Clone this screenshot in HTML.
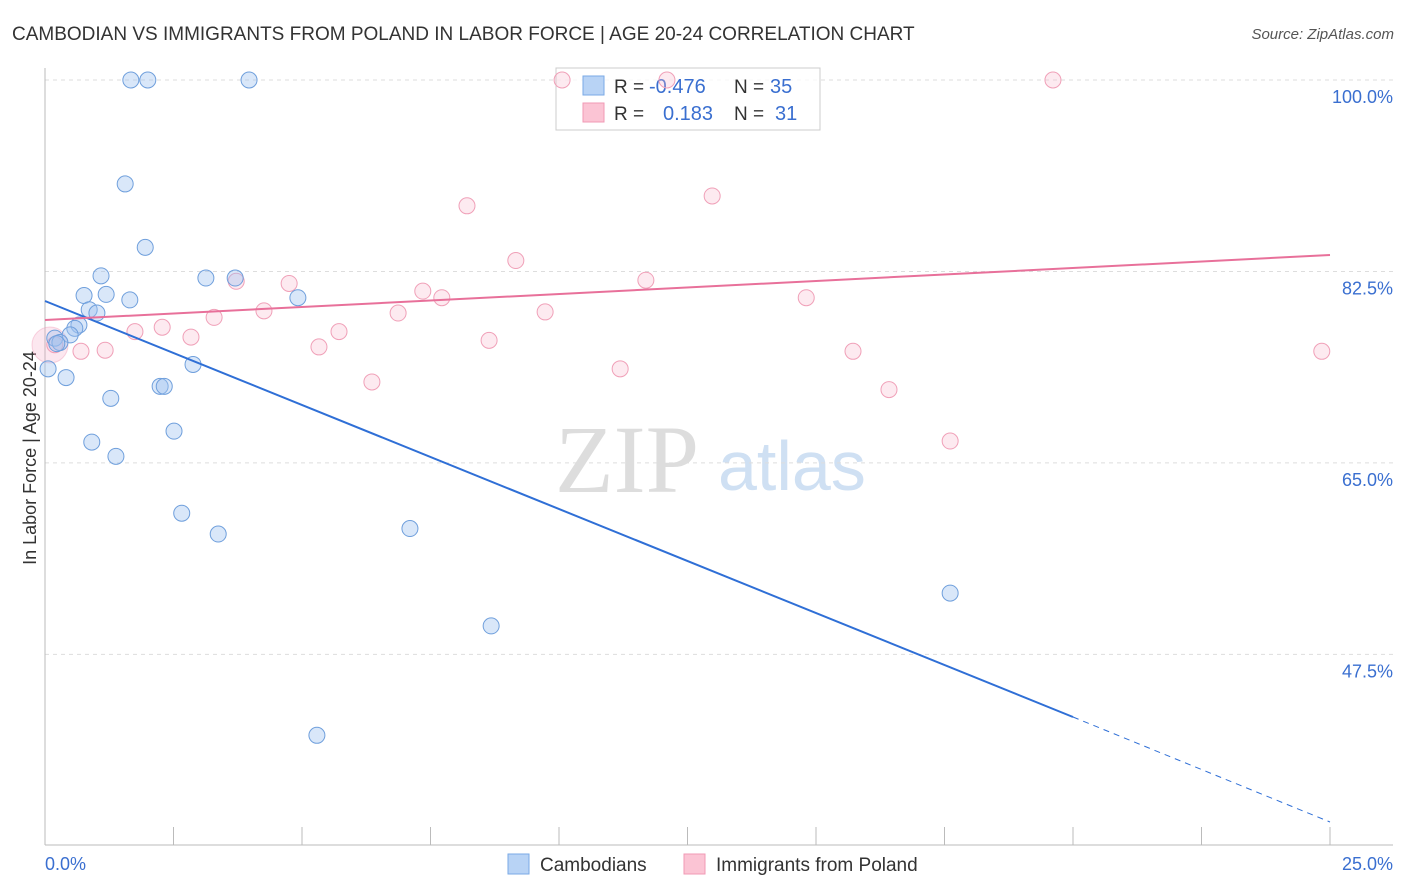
<!DOCTYPE html>
<html><head><meta charset="utf-8"><style>
body{margin:0;background:#fff;font-family:"Liberation Sans",sans-serif;}
svg{display:block}
</style></head><body>
<svg id="chart" width="1406" height="892">
<text x="12" y="40" font-size="19" fill="#333">CAMBODIAN VS IMMIGRANTS FROM POLAND IN LABOR FORCE | AGE 20-24 CORRELATION CHART</text>
<text x="1394" y="39" font-size="15" fill="#555" font-style="italic" text-anchor="end">Source: ZipAtlas.com</text>
<text x="36" y="458" font-size="18" fill="#333" text-anchor="middle" transform="rotate(-90 36 458)">In Labor Force | Age 20-24</text>
<text x="555" y="492" font-size="96" fill="#ddd" font-family="Liberation Serif,serif">ZIP</text>
<text x="718" y="490" font-size="70" fill="#cfe0f3">atlas</text>
<g id="grid"></g>
<g>
<rect x="556" y="68" width="264" height="62" fill="rgba(255,255,255,0.75)" stroke="#ccc"/>
<rect x="583" y="76" width="21" height="19" fill="#b8d3f5" stroke="#7aa9e6"/>
<rect x="583" y="103" width="21" height="19" fill="#fbc4d4" stroke="#f09ab5"/>
<text x="614" y="93" font-size="19" fill="#333">R = </text><text x="649" y="93" font-size="20" fill="#3a6fd0">-0.476</text>
<text x="734" y="93" font-size="19" fill="#333">N = </text><text x="770" y="93" font-size="20" fill="#3a6fd0">35</text>
<text x="614" y="120" font-size="19" fill="#333">R = </text><text x="663" y="120" font-size="20" fill="#3a6fd0">0.183</text>
<text x="734" y="120" font-size="19" fill="#333">N = </text><text x="775" y="120" font-size="20" fill="#3a6fd0">31</text>
</g>
<g id="pts"></g><g id="lines"></g>
<g>
<rect x="508" y="854" width="21" height="20" fill="#b8d3f5" stroke="#7aa9e6"/>
<text x="540" y="871" font-size="19" fill="#333">Cambodians</text>
<rect x="684" y="854" width="21" height="20" fill="#fbc4d4" stroke="#f09ab5"/>
<text x="716" y="871" font-size="19" fill="#333">Immigrants from Poland</text>
</g>
</svg>
<script>
const yTicks=[100,82.5,65,47.5];
const yTickLabels=["100.0%","82.5%","65.0%","47.5%"];
const xTickLabels=["0.0%","25.0%"];
const blueX=[1.67,2.0,3.97,1.56,1.95,1.09,3.13,3.70,0.76,1.19,1.65,4.92,0.86,1.01,0.66,0.58,0.49,0.19,0.29,0.06,0.41,2.88,1.28,2.24,2.32,0.91,1.38,2.51,2.66,3.37,7.10,8.68,17.61,5.29,0.23];
const blueY=[100,100,100,90.5,84.7,82.1,81.9,81.9,80.3,80.4,79.9,80.1,79.0,78.7,77.6,77.3,76.7,76.4,76.0,73.6,72.8,74.0,70.9,72.0,72.0,66.9,65.6,67.9,60.4,58.5,59.0,50.1,53.1,40.1,75.9];
const pinkX=[10.06,12.1,19.61,12.98,8.21,9.16,4.75,3.72,11.69,7.35,7.72,14.81,4.26,6.87,9.73,3.29,2.28,1.75,5.72,2.84,8.64,5.33,1.17,0.70,15.72,24.84,6.36,11.19,16.42,17.61,0.19];
const pinkY=[100,100,100,89.4,88.5,83.5,81.4,81.6,81.7,80.7,80.1,80.1,78.9,78.7,78.8,78.3,77.4,77.0,77.0,76.5,76.2,75.6,75.3,75.2,75.2,75.2,72.4,73.6,71.7,67.0,75.8];
const X=v=>45+v*51.4, Y=v=>80+(100-v)*10.94;
const ns="http://www.w3.org/2000/svg";
function mk(t,a,p){const e=document.createElementNS(ns,t);for(const k in a)e.setAttribute(k,a[k]);p.appendChild(e);return e;}
const g=document.getElementById('grid');
yTicks.forEach((t,i)=>{
 const l=mk('line',{x1:45,x2:1393,y1:Y(t),y2:Y(t),stroke:'#ddd','stroke-dasharray':'4,4'},g);
 
 
 const tx=mk('text',{x:1393,y:Y(t)+23,'font-size':18,fill:'#3a6fd0','text-anchor':'end'},g);tx.textContent=yTickLabels[i];
 
 
});
mk('line',{x1:45,x2:45,y1:68,y2:845,stroke:'#bbb'},g);
mk('line',{x1:45,x2:1393,y1:845,y2:845,stroke:'#bbb'},g);
for(let i=0;i<=10;i++){mk('line',{x1:X(i*2.5),x2:X(i*2.5),y1:827,y2:845,stroke:'#bbb'},g);}
const xl1=mk('text',{x:45,y:870,'font-size':18,fill:'#3a6fd0'},g);xl1.textContent=xTickLabels[0];


const xl2=mk('text',{x:1393,y:870,'font-size':18,fill:'#3a6fd0','text-anchor':'end'},g);xl2.textContent=xTickLabels[1];


const p=document.getElementById('pts');
mk('circle',{cx:50,cy:345,r:18,fill:'rgba(245,160,190,0.25)',stroke:'rgba(240,150,180,0.4)'},p);
pinkX.forEach((x,i)=>{const c=mk('circle',{cx:X(x),cy:Y(pinkY[i]),r:8,fill:'rgba(248,185,206,0.3)',stroke:'#f0a0b8','stroke-width':1},p);
 
 });
blueX.forEach((x,i)=>{const c=mk('circle',{cx:X(x),cy:Y(blueY[i]),r:8,fill:'rgba(160,195,240,0.4)',stroke:'#6f9fdc','stroke-width':1},p);
 
 });
const L=document.getElementById('lines');
const bl=mk('line',{x1:45,y1:301,x2:1073,y2:717,stroke:'#2f6fd6','stroke-width':2},L);


mk('line',{x1:1073,y1:717,x2:1330,y2:822,stroke:'#2f6fd6','stroke-width':1,'stroke-dasharray':'6,5'},L);
const pl=mk('line',{x1:45,y1:320,x2:1330,y2:255,stroke:'#e8709a','stroke-width':2},L);


</script>
</body></html>
